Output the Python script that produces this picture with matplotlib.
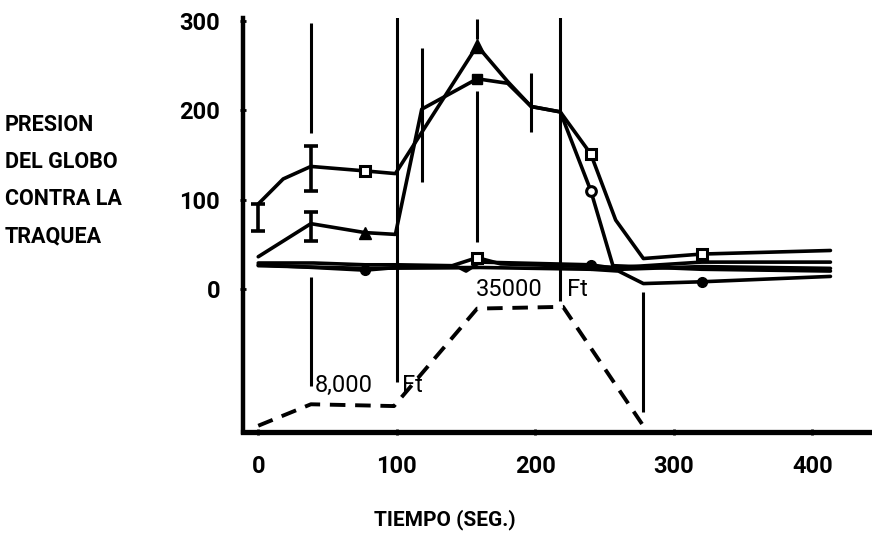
import matplotlib.pyplot as plt

# tiempo (seg) y presion de cada curva
serie_a_t = [0, 18, 38, 77, 99, 158, 180, 197, 218, 240, 258, 278, 320, 413]
serie_a_p = [95, 123, 137, 132, 129, 272, 232, 204, 198, 151, 77, 34, 39, 43]

serie_b_t = [0, 38, 77, 99, 118, 158, 180, 197, 218, 240, 256, 320, 413]
serie_b_p = [36, 73, 63, 61, 201, 235, 230, 204, 198, 110, 26, 22, 20]

serie_c_t = [0, 40, 77, 100, 140, 158, 175, 240, 260, 320, 413]
serie_c_p = [29, 29, 27, 27, 26, 35, 28, 25, 24, 30, 30]

serie_d_t = [0, 40, 77, 100, 145, 150, 160, 240, 262, 320, 413]
serie_d_p = [27, 24, 21, 24, 24, 20, 30, 27, 22, 25, 23]

serie_e_t = [0, 77, 160, 240, 260, 278, 320, 413]
serie_e_p = [26, 23, 24, 22, 20, 6, 8, 14]

# indices con marcador
marc_cuad_a = [3, 9, 12]
marc_tri_a = [5]
marc_tri_b = [2]
marc_cuadn_b = [5]
marc_circ_b = [9]
marc_cuad_c = [5]
marc_pto_d = [2, 7]
marc_pto_e = [6]

# barras de error (t, centro, semi-rango)
err_t = [0, 38, 38]
err_p = [80, 135, 70]
err_d = [15, 25, 16]

# lineas verticales (t, desde, hasta)
vert_t = [38, 38, 100, 118, 158, 158, 197, 218, 278]
vert_desde = [174, -109, -104, 120, 280, 53, 176, -13, -138]
vert_hasta = [297, 13, 305, 269, 302, 221, 241, 306, -3]

# altitud (linea discontinua)
alt_t = [0, 38, 98, 158, 220, 277]
alt_p = [-153, -129, -131, -22, -20, -151]

x_ticks = [0, 100, 200, 300, 400]
y_ticks = [0, 100, 200, 300]
etiqueta_y = ['PRESION', 'DEL GLOBO', 'CONTRA LA', 'TRAQUEA']

fig = plt.figure(figsize=(8.72, 5.33), dpi=100)
ax = fig.add_axes([243 / 872, 101 / 533, 629 / 872, 414 / 533])

lw = 2.6
for t, p in [(serie_a_t, serie_a_p), (serie_b_t, serie_b_p), (serie_c_t, serie_c_p),
             (serie_d_t, serie_d_p), (serie_e_t, serie_e_p)]:
    ax.plot(t, p, color='black', lw=lw, solid_capstyle='round', solid_joinstyle='round')


def marcas(t, p, idx, **kw):
    ax.plot([t[i] for i in idx], [p[i] for i in idx], ls='none', color='black', **kw)


marcas(serie_a_t, serie_a_p, marc_cuad_a, marker='s', ms=7, mfc='white', mec='black', mew=2.2)
marcas(serie_a_t, serie_a_p, marc_tri_a, marker='^', ms=10)
marcas(serie_b_t, serie_b_p, marc_tri_b, marker='^', ms=8)
marcas(serie_b_t, serie_b_p, marc_cuadn_b, marker='s', ms=7)
marcas(serie_b_t, serie_b_p, marc_circ_b, marker='o', ms=7, mfc='white', mec='black', mew=2.2)
marcas(serie_c_t, serie_c_p, marc_cuad_c, marker='s', ms=7, mfc='white', mec='black', mew=2.2)
marcas(serie_d_t, serie_d_p, marc_pto_d, marker='o', ms=7)
marcas(serie_e_t, serie_e_p, marc_pto_e, marker='o', ms=7)

ax.errorbar(err_t, err_p, yerr=err_d, fmt='none', ecolor='black', elinewidth=2.6,
            capsize=5, capthick=2.6)

ax.vlines(vert_t, vert_desde, vert_hasta, color='black', lw=2.2)

ax.plot(alt_t, alt_p, color='black', lw=2.8, ls=(0, (4, 2.5)))

txt = dict(family='Roboto', fontsize=17, color='black')
ax.text(41, -115, '8,000', **txt)
ax.text(104, -115, 'Ft', **txt)
ax.text(157, -8, '35000', **txt)
ax.text(223, -8, 'Ft', **txt)

ax.set_xlim(-11, 443)
ax.set_ylim(-160, 303)
ax.set_xticks(x_ticks)
ax.set_yticks(y_ticks)
ax.set_xticklabels([str(v) for v in x_ticks], family='Roboto', fontweight='bold', fontsize=17)
ax.set_yticklabels([str(v) for v in y_ticks], family='Roboto', fontweight='bold', fontsize=17)
ax.tick_params(axis='both', direction='inout', length=5, width=2, color='black')
ax.tick_params(axis='y', pad=14)
ax.tick_params(axis='x', pad=14)

for s in ['top', 'right']:
    ax.spines[s].set_visible(False)
ax.spines['left'].set_linewidth(3.2)
ax.spines['bottom'].set_linewidth(3.8)

for i, linea in enumerate(etiqueta_y):
    fig.text(5 / 872, 1 - (125 + 37 * i) / 533, linea, family='Roboto', fontweight='bold',
             fontsize=15.5, va='center', ha='left')
fig.text(445 / 872, 1 - 520 / 533, 'TIEMPO (SEG.)', family='Roboto', fontweight='bold',
         fontsize=15, ha='center', va='center')

fig.savefig('out.png', dpi=100)
